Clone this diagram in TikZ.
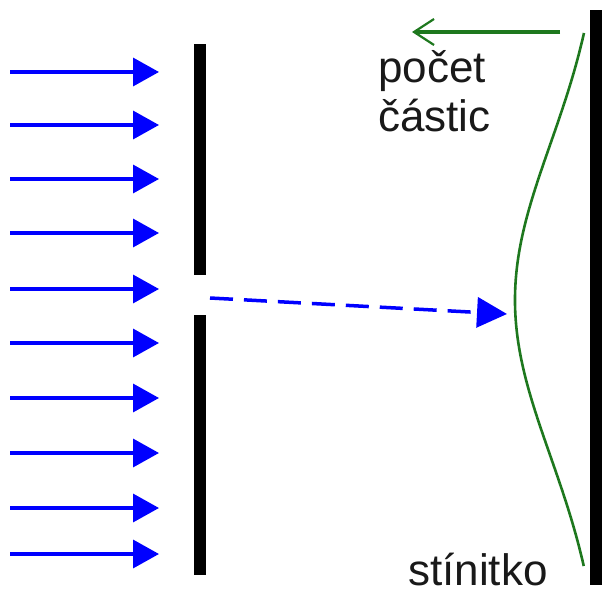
\documentclass[tikz,border=0pt]{standalone}
\usepackage{fontspec}
\setmainfont{Liberation Sans}
\usetikzlibrary{arrows.meta}
\definecolor{darkgreen}{RGB}{30,120,30}
\definecolor{txt}{RGB}{25,25,25}
\tikzset{
  ray/.style={draw=blue, line width=3.5pt, -{Triangle[length=26pt,width=28pt]}},
  dashray/.style={draw=blue, line width=3.5pt, dash pattern=on 23pt off 11pt, -{Triangle[length=30pt,width=30pt]}},
  wall/.style={fill=black},
  lbl/.style={font=\fontsize{44}{49}\selectfont, text=txt, inner sep=0pt, anchor=base west},
  countarrow/.style={draw=darkgreen, line width=3.5pt, -{Straight Barb[length=20pt,width=26pt,line width=2.2pt]}},
  curve/.style={draw=darkgreen, line width=2.6pt}
}
\begin{document}
\begin{tikzpicture}[x=1pt,y=-1pt]
\useasboundingbox (0,0) rectangle (604,593);
% incoming rays
\foreach \i/\yy in {1/72,2/125,3/179,4/233,5/289,6/343,7/398,8/453,9/508,10/554}{
  \coordinate (s\i) at (10,\yy);
  \coordinate (e\i) at (159,\yy);
  \draw[ray] (s\i) -- (e\i);
}
% barrier with slit
\fill[wall] (194,44) rectangle (206,275);
\fill[wall] (194,315) rectangle (206,575);
% screen
\fill[wall] (590,10) rectangle (602,585);
% dashed ray through slit
\coordinate (slit) at (210,298);
\coordinate (hit) at (507,314);
\draw[dashray] (slit) -- (hit);
% distribution curve
\draw[curve] plot[domain=33:566, samples=120, variable=\t]
  ({584 - 69*(exp(-((\t-300)/220)^2) - 0.229)/0.771}, {\t});
% count arrow
\coordinate (ca) at (560,32);
\coordinate (cb) at (412,32);
\draw[countarrow] (ca) -- (cb);
% labels
\node[lbl] (pocet) at (378,83) {počet};
\node[lbl] (castic) at (378,132) {částic};
\node[lbl] (stinitko) at (408,585) {stínitko};
\end{tikzpicture}
\end{document}
